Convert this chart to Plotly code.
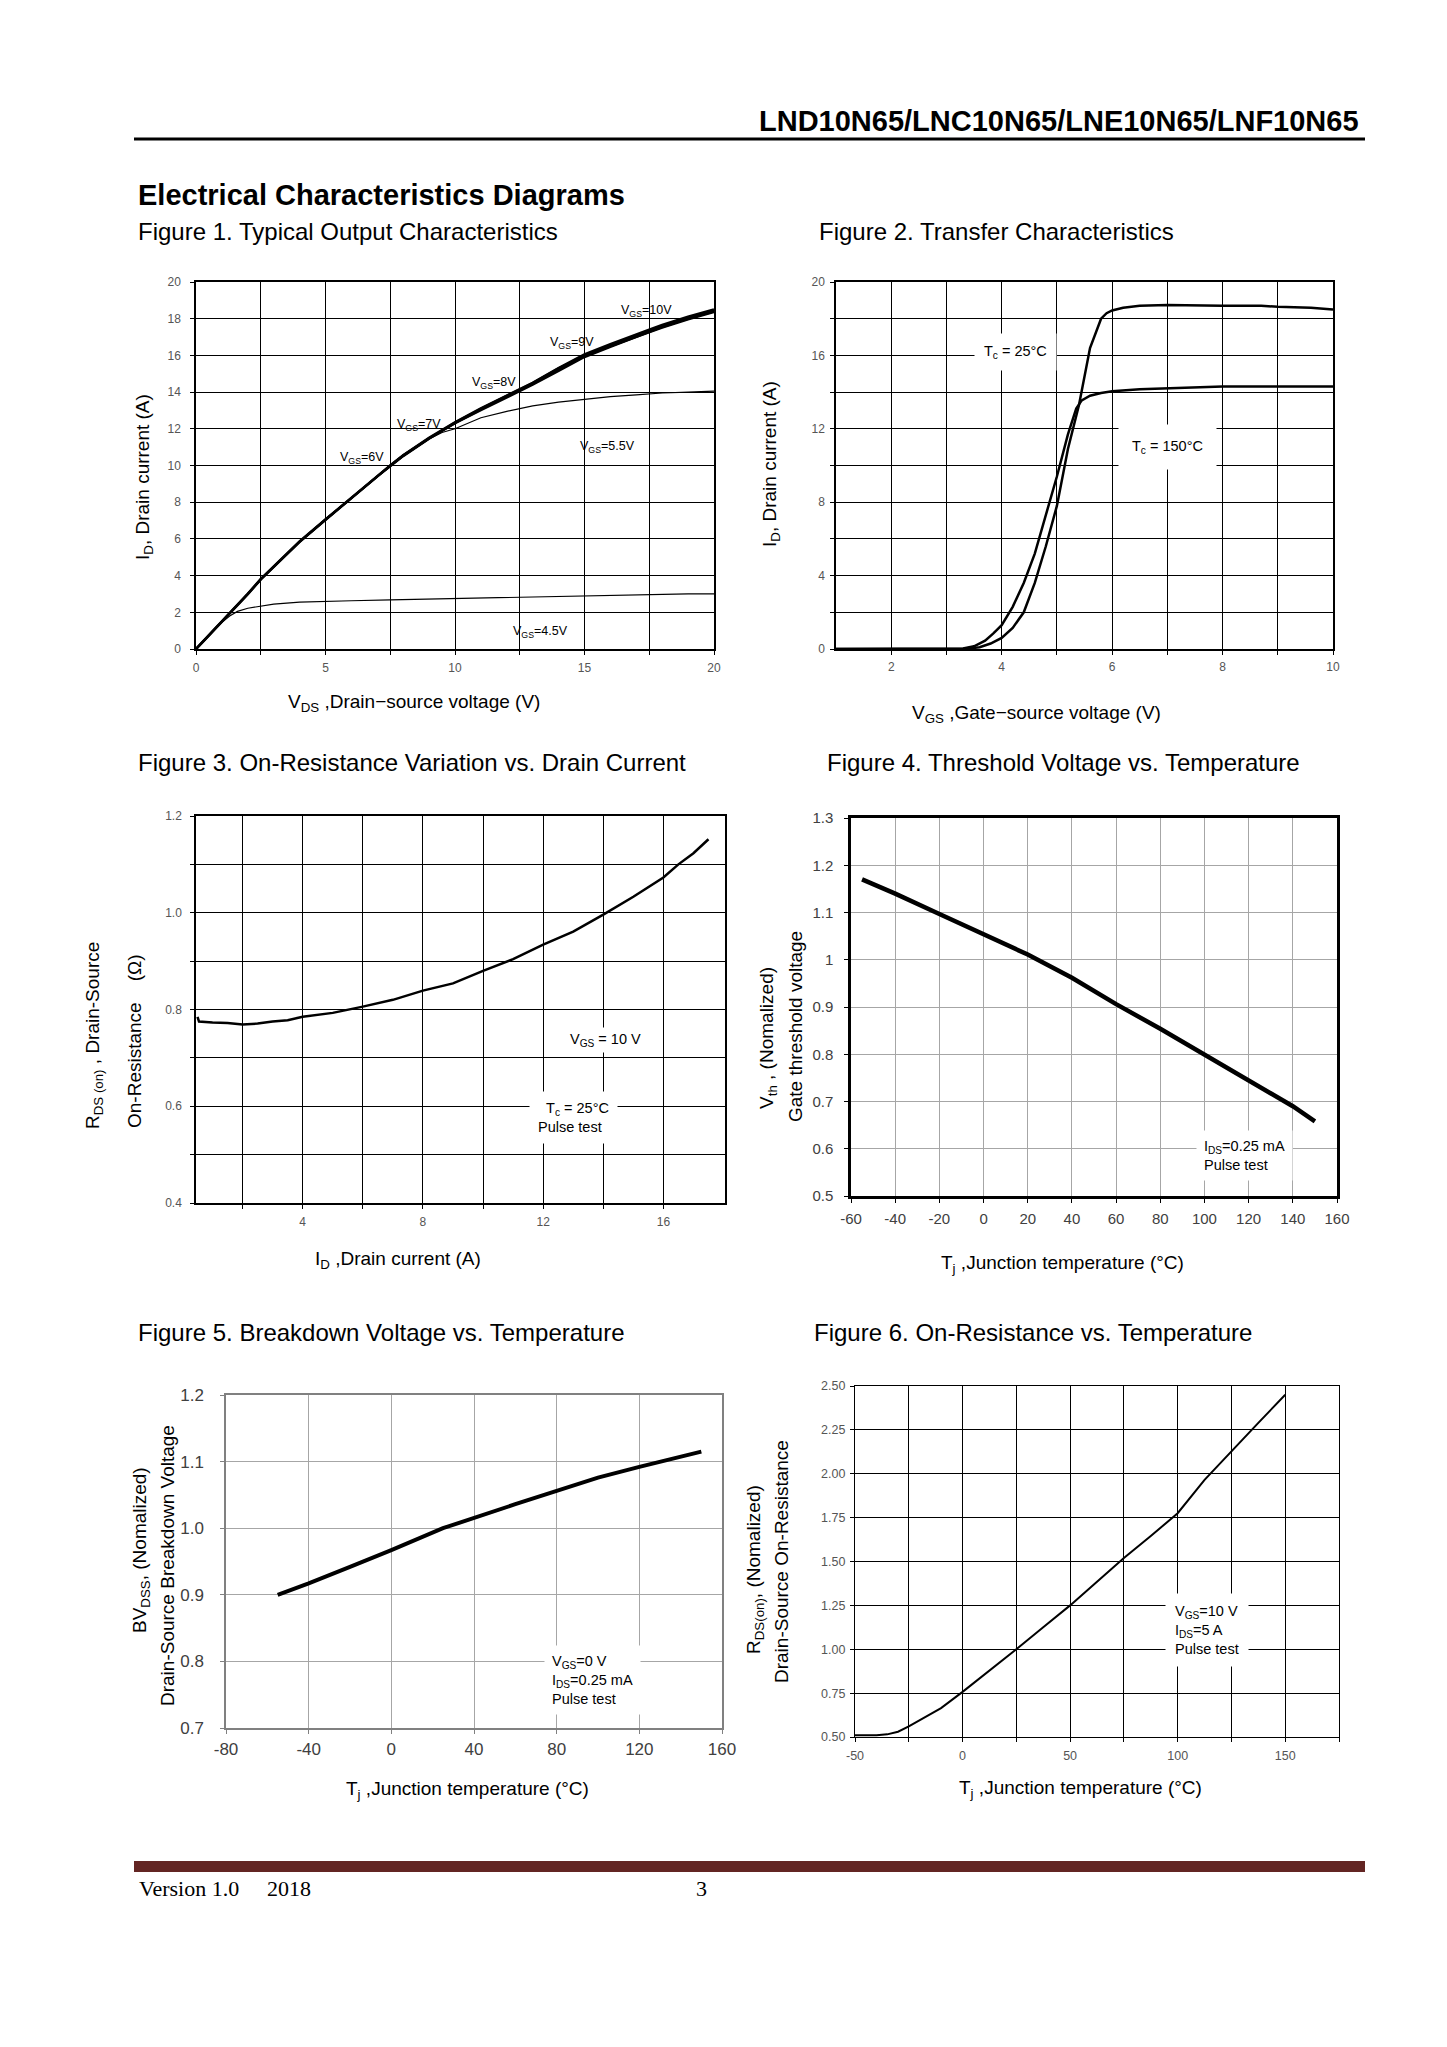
import plotly.graph_objects as go

# ---------------- data ----------------
# Figure 1: output characteristics (VDS in V, ID in A)
f1_vds = [0, 0.5, 1.0, 1.4, 2.0, 2.5, 3.0, 4.0, 5.0, 6.0, 7.0, 7.5, 8.0, 9.0, 10.0,
          11.0, 12.0, 12.5, 13.0, 14.0, 15.0, 16.0, 17.0, 17.5, 18.0, 19.0, 20.0]
f1_id_10v = [0, 0.75, 1.5, 2.05, 3.0, 3.8, 4.5, 5.85, 7.05, 8.25, 9.45, 10.0, 10.55, 11.5, 12.35,
             13.1, 13.8, 14.15, 14.5, 15.3, 16.05, 16.6, 17.15, 17.4, 17.65, 18.1, 18.5]
f1_id_9v = [0, 0.75, 1.5, 2.05, 3.0, 3.8, 4.5, 5.85, 7.05, 8.25, 9.45, 10.0, 10.55, 11.5, 12.35,
            13.1, 13.8, 14.15, 14.5, 15.3, 16.0, 16.5, 17.0, 17.25, 17.5, 17.95, 18.35]
f1_id_8v = [0, 0.75, 1.5, 2.05, 3.0, 3.8, 4.5, 5.85, 7.05, 8.25, 9.45, 10.0, 10.55, 11.5, 12.3,
            13.05, 13.75, 14.1, 14.45, 15.2, 15.95, 16.5, 17.05, 17.3, 17.55, 18.0, 18.4]
f1_id_7v = [0, 0.75, 1.5, 2.05, 3.0, 3.8, 4.5, 5.85, 7.05, 8.25, 9.4, 9.95, 10.5, 11.45, 12.3,
            13.0, 13.7, 14.05, 14.4, 15.15, 15.9, 16.45, 17.0, 17.3, 17.55, 18.0, 18.4]
f1_vds_55 = [0, 0.5, 1.0, 1.4, 2.0, 2.5, 3.0, 4.0, 5.0, 6.0, 7.0, 7.5, 8.0, 9.0, 9.5, 10.0,
             10.5, 11.0, 12.0, 12.5, 13.0, 14.0, 15.0, 16.0, 17.0, 17.5, 18.0, 19.0, 20.0]
f1_id_55v = [0, 0.75, 1.5, 2.05, 3.0, 3.8, 4.5, 5.85, 7.05, 8.25, 9.4, 9.95, 10.5, 11.45, 11.8, 12.0,
             12.3, 12.6, 12.95, 13.1, 13.25, 13.45, 13.6, 13.75, 13.85, 13.9, 13.95, 14.0, 14.05]
f1_vds_45 = [0, 0.5, 1.0, 1.3, 1.6, 2.0, 2.5, 3.0, 4.0, 5.0, 6.0, 7.5, 9.0, 10.0, 11.0,
             12.5, 14.0, 15.0, 16.0, 17.5, 18.0, 19.0, 20.0]
f1_id_45v = [0, 0.75, 1.45, 1.8, 2.05, 2.22, 2.35, 2.45, 2.55, 2.6, 2.63, 2.68, 2.72, 2.75, 2.78,
             2.85, 2.88, 2.92, 2.93, 2.98, 2.97, 3.0, 3.0]
f1_xticks = [0, 5, 10, 15, 20]
f1_xgrid = [2.5, 7.5, 12.5, 17.5]
f1_yticks = [0, 2, 4, 6, 8, 10, 12, 14, 16, 18, 20]
f1_ygrid = []

# Figure 2: transfer characteristics (VGS in V, ID in A)
f2_vgs_25 = [1, 2, 3, 3.4, 3.6, 3.8, 4.0, 4.2, 4.4, 4.6, 4.8, 5.0, 5.2, 5.4, 5.6, 5.8, 5.9,
             6.0, 6.2, 6.5, 7.0, 7.5, 8.0, 8.7, 9.0, 9.6, 10.0]
f2_id_25 = [0, 0, 0, 0.02, 0.1, 0.3, 0.6, 1.15, 2.0, 3.6, 5.6, 7.8, 10.9, 13.3, 16.4, 18.0, 18.3,
            18.45, 18.6, 18.7, 18.75, 18.72, 18.7, 18.7, 18.65, 18.6, 18.5]
f2_vgs_150 = [1, 2, 3, 3.3, 3.5, 3.7, 3.85, 4.0, 4.2, 4.4, 4.6, 4.8, 5.0, 5.2, 5.35, 5.45, 5.6,
              5.8, 6.0, 6.5, 7.0, 7.6, 8.0, 9.0, 10.0]
f2_id_150 = [0, 0, 0, 0.03, 0.15, 0.45, 0.85, 1.3, 2.3, 3.6, 5.2, 7.3, 9.4, 11.7, 13.1, 13.55, 13.8,
             13.95, 14.05, 14.15, 14.2, 14.3, 14.3, 14.3, 14.3]
f2_xticks = [2, 4, 6, 8, 10]
f2_xgrid = [3, 5, 7, 9]
f2_yticks = [0, 4, 8, 12, 16, 20]
f2_ygrid = [2, 6, 10, 14, 18]

# Figure 3: on-resistance vs drain current (ID in A, ohm)
f3_id = [0.5, 0.55, 1.0, 1.5, 2.0, 2.5, 3.0, 3.5, 4.0, 5.0, 6.0, 7.0, 8.0, 9.0, 10.0, 11.0,
         12.0, 13.0, 14.0, 15.0, 16.0, 16.5, 17.0, 17.5]
f3_r = [0.785, 0.775, 0.773, 0.772, 0.769, 0.771, 0.775, 0.778, 0.785, 0.793, 0.806, 0.820,
        0.839, 0.854, 0.880, 0.904, 0.934, 0.961, 0.996, 1.033, 1.073, 1.100, 1.123, 1.152]
f3_xticks = [4, 8, 12, 16]
f3_xgrid = [2, 6, 10, 14]
f3_yticks = [0.4, 0.6, 0.8, 1.0, 1.2]
f3_ylabels = ["0.4", "0.6", "0.8", "1.0", "1.2"]
f3_ygrid = [0.5, 0.7, 0.9, 1.1]

# Figure 4: threshold voltage vs temperature
f4_t = [-55, -40, -20, 0, 20, 40, 60, 80, 100, 120, 140, 150]
f4_v = [1.17, 1.14, 1.097, 1.054, 1.011, 0.962, 0.906, 0.854, 0.800, 0.745, 0.690, 0.658]
f4_xticks = [-60, -40, -20, 0, 20, 40, 60, 80, 100, 120, 140, 160]
f4_yticks = [0.5, 0.6, 0.7, 0.8, 0.9, 1.0, 1.1, 1.2, 1.3]
f4_ylabels = ["0.5", "0.6", "0.7", "0.8", "0.9", "1", "1.1", "1.2", "1.3"]

# Figure 5: breakdown voltage vs temperature
f5_t = [-55, -40, -20, 0, 25, 40, 60, 80, 100, 120, 150]
f5_bv = [0.900, 0.917, 0.942, 0.967, 1.000, 1.016, 1.036, 1.056, 1.076, 1.092, 1.115]
f5_xticks = [-80, -40, 0, 40, 80, 120, 160]
f5_yticks = [0.7, 0.8, 0.9, 1.0, 1.1, 1.2]
f5_ylabels = ["0.7", "0.8", "0.9", "1.0", "1.1", "1.2"]

# Figure 6: on-resistance vs temperature
f6_t = [-50, -40, -35, -30, -25, -20, -10, 0, 10, 25, 37.5, 50, 62.5, 75, 87.5, 100,
        112.5, 125, 137.5, 150]
f6_r = [0.51, 0.51, 0.515, 0.53, 0.56, 0.595, 0.665, 0.757, 0.853, 1.0, 1.125, 1.25, 1.385,
        1.52, 1.645, 1.775, 1.965, 2.13, 2.29, 2.45]
f6_xticks = [-50, 0, 50, 100, 150]
f6_xgrid = [-25, 25, 75, 125, 175]
f6_yticks = [0.5, 0.75, 1.0, 1.25, 1.5, 1.75, 2.0, 2.25, 2.5]
f6_ylabels = ["0.50", "0.75", "1.00", "1.25", "1.50", "1.75", "2.00", "2.25", "2.50"]

# ---------------- layout helpers ----------------
OFF = 8
W, H = 1431, 2031
FONT = "Liberation Sans, Arial, sans-serif"
SERIF = "Liberation Serif, Times New Roman, serif"


def fx(p):
    return (p - OFF) / W


def fy(p):
    return 1 - (p - OFF) / H


fig = go.Figure()

panels = {
    1: dict(L=196, R=714, T=282, B=649),
    2: dict(L=836, R=1333, T=282, B=649),
    3: dict(L=196, R=725, T=816, B=1203),
    4: dict(L=851, R=1337, T=818, B=1196),
    5: dict(L=226, R=722, T=1395, B=1728),
    6: dict(L=855, R=1339, T=1386, B=1737),
}


def add_line(n, x, y, width, color="black"):
    s = "" if n == 1 else str(n)
    fig.add_trace(go.Scatter(x=x, y=y, mode="lines", xaxis="x" + s, yaxis="y" + s,
                             line=dict(color=color, width=width), showlegend=False,
                             hoverinfo="skip"))


# fig 1
add_line(1, f1_vds_45, f1_id_45v, 1.2)
add_line(1, f1_vds_55, f1_id_55v, 1.2)
add_line(1, f1_vds, f1_id_7v, 2)
add_line(1, f1_vds, f1_id_8v, 2)
add_line(1, f1_vds, f1_id_9v, 2)
add_line(1, f1_vds, f1_id_10v, 2.8)
# fig 2
add_line(2, f2_vgs_25, f2_id_25, 2.5)
add_line(2, f2_vgs_150, f2_id_150, 2.5)
# fig 3
add_line(3, f3_id, f3_r, 2.5)
# fig 4
add_line(4, f4_t, f4_v, 4.5)
# fig 5
add_line(5, f5_t, f5_bv, 4)
# fig 6
add_line(6, f6_t, f6_r, 2)

axis_cfg = {
    1: dict(xr=[0, 20], yr=[0, 20], xt=f1_xticks, xl=[str(v) for v in f1_xticks], xg=f1_xgrid,
            yt=f1_yticks, yl=[str(v) for v in f1_yticks], yg=f1_ygrid,
            grid="black", line="black", lw=1.5, tf=12, tc="#555", xs=3, ys=7),
    2: dict(xr=[1, 10], yr=[0, 20], xt=f2_xticks, xl=[str(v) for v in f2_xticks], xg=f2_xgrid,
            yt=f2_yticks, yl=[str(v) for v in f2_yticks], yg=f2_ygrid,
            grid="black", line="black", lw=1.5, tf=12, tc="#555", xs=2, ys=3),
    3: dict(xr=[0.45, 18.05], yr=[0.4, 1.2], xt=f3_xticks, xl=[str(v) for v in f3_xticks],
            xg=f3_xgrid, yt=f3_yticks, yl=f3_ylabels, yg=f3_ygrid,
            grid="black", line="black", lw=1.5, tf=12, tc="#555", xs=3, ys=6),
    4: dict(xr=[-60, 160], yr=[0.5, 1.3], xt=f4_xticks, xl=[str(v) for v in f4_xticks], xg=[],
            yt=f4_yticks, yl=f4_ylabels, yg=[], grid="#a6a6a6", line="black", lw=2.5,
            tf=15, tc="#404040", xs=3, ys=8),
    5: dict(xr=[-80, 160], yr=[0.7, 1.2], xt=f5_xticks, xl=[str(v) for v in f5_xticks], xg=[],
            yt=f5_yticks, yl=f5_ylabels, yg=[], grid="#a6a6a6", line="#808080", lw=1.5,
            tf=17, tc="#404040", xs=1, ys=13),
    6: dict(xr=[-50, 175], yr=[0.5, 2.5], xt=f6_xticks, xl=[str(v) for v in f6_xticks],
            xg=f6_xgrid, yt=f6_yticks, yl=f6_ylabels, yg=[],
            grid="black", line="black", lw=1.2, tf=12.5, tc="#555", xs=3, ys=2),
}

layout = dict(template="none", width=W, height=H, autosize=False,
              margin=dict(l=0, r=0, t=0, b=0, pad=0),
              paper_bgcolor="white", plot_bgcolor="white", showlegend=False,
              font=dict(family=FONT, color="black"))

for n, p in panels.items():
    c = axis_cfg[n]
    s = "" if n == 1 else str(n)
    common = dict(tickmode="array", showgrid=True, gridcolor=c["grid"], gridwidth=1,
                  zeroline=False, showline=True, mirror=True, linecolor=c["line"],
                  linewidth=c["lw"], ticks="outside", ticklen=4, tickcolor=c["line"],
                  tickfont=dict(size=c["tf"], color=c["tc"], family=FONT),
                  fixedrange=True, automargin=False)

    def minor(vals):
        if not vals:
            return dict(showgrid=False, ticks="")
        return dict(tickmode="array", tickvals=vals, showgrid=True, gridcolor=c["grid"],
                    gridwidth=1, ticks="outside", ticklen=4, tickcolor=c["line"])

    layout["xaxis" + s] = dict(domain=[fx(p["L"]), fx(p["R"])], range=c["xr"], anchor="y" + s,
                               tickvals=c["xt"], ticktext=c["xl"], ticklabelstandoff=c["xs"],
                               minor=minor(c["xg"]), **common)
    layout["yaxis" + s] = dict(domain=[fy(p["B"]), fy(p["T"])], range=c["yr"], anchor="x" + s,
                               tickvals=c["yt"], ticktext=c["yl"], ticklabelstandoff=c["ys"],
                               minor=minor(c["yg"]), **common)

fig.update_layout(**layout)

anns = []


def page_text(x, y, text, size, xanchor="left", bold=False, family=FONT, angle=0):
    t = "<b>%s</b>" % text if bold else text
    anns.append(dict(x=fx(x), y=fy(y), xref="paper", yref="paper", text=t,
                     showarrow=False, xanchor=xanchor, yanchor="middle", textangle=angle,
                     font=dict(size=size, family=family, color="black")))


def data_text(n, x, y, text, size=12, bg=None, xanchor="center", pad=2):
    s = "" if n == 1 else str(n)
    a = dict(x=x, y=y, xref="x" + s, yref="y" + s, text=text, showarrow=False,
             xanchor=xanchor, yanchor="middle", align="left",
             font=dict(size=size, family=FONT, color="black"), borderpad=pad)
    if bg:
        a["bgcolor"] = bg
    anns.append(a)


# header / captions
page_text(1361, 121, "LND10N65/LNC10N65/LNE10N65/LNF10N65", 29, xanchor="right", bold=True)
page_text(136, 195, "Electrical Characteristics Diagrams", 29, bold=True)
page_text(136, 232, "Figure 1. Typical Output Characteristics", 24)
page_text(817, 232, "Figure 2. Transfer Characteristics", 24)
page_text(136, 763, "Figure 3. On-Resistance Variation vs. Drain Current", 24)
page_text(825, 763, "Figure 4. Threshold Voltage vs. Temperature", 24)
page_text(136, 1332, "Figure 5. Breakdown Voltage vs. Temperature", 24)
page_text(812, 1332, "Figure 6. On-Resistance vs. Temperature", 24)
page_text(137, 1888, "Version 1.0", 22, family=SERIF)
page_text(265, 1888, "2018", 22, family=SERIF)
page_text(701, 1888, "3", 22, xanchor="center", family=SERIF)

# axis titles
page_text(144, 477, "I<sub>D</sub>, Drain current (A)", 19, xanchor="center", angle=-90)
page_text(414, 703, "V<sub>DS</sub> ,Drain\u2212source voltage (V)", 19, xanchor="center")
page_text(771, 464, "I<sub>D</sub>, Drain current (A)", 19, xanchor="center", angle=-90)
page_text(1036, 714, "V<sub>GS</sub> ,Gate\u2212source voltage (V)", 19, xanchor="center")
page_text(94, 1036, "R<sub>DS (on)</sub> , Drain-Source", 19, xanchor="center", angle=-90)
page_text(134, 1041, "On-Resistance &nbsp;&nbsp;&nbsp;(\u03a9)", 19, xanchor="center", angle=-90)
page_text(398, 1260, "I<sub>D</sub> ,Drain current (A)", 19, xanchor="center")
page_text(768, 1038, "V<sub>th</sub> , (Nomalized)", 19, xanchor="center", angle=-90)
page_text(795, 1027, "Gate threshold voltage", 19, xanchor="center", angle=-90)
page_text(1062, 1264, "T<sub>j</sub> ,Junction temperature (\u00b0C)", 19, xanchor="center")
page_text(141, 1550, "BV<sub>DSS</sub>, (Nomalized)", 19, xanchor="center", angle=-90)
page_text(167, 1566, "Drain-Source Breakdown Voltage", 19, xanchor="center", angle=-90)
page_text(468, 1790, "T<sub>j</sub> ,Junction temperature (\u00b0C)", 19, xanchor="center")
page_text(755, 1570, "R<sub>DS(on)</sub>, (Nomalized)", 19, xanchor="center", angle=-90)
page_text(781, 1562, "Drain-Source On-Resistance", 19, xanchor="center", angle=-90)
page_text(1080, 1789, "T<sub>j</sub> ,Junction temperature (\u00b0C)", 19, xanchor="center")

# in-plot labels
data_text(1, 17.4, 18.4, "V<sub>GS</sub>=10V", 12.5)
data_text(1, 14.5, 16.7, "V<sub>GS</sub>=9V", 12.5)
data_text(1, 11.5, 14.5, "V<sub>GS</sub>=8V", 12.5)
data_text(1, 8.6, 12.2, "V<sub>GS</sub>=7V", 12.5)
data_text(1, 6.4, 10.4, "V<sub>GS</sub>=6V", 12.5)
data_text(1, 15.9, 11.0, "V<sub>GS</sub>=5.5V", 12.5)
data_text(1, 13.3, 0.9, "V<sub>GS</sub>=4.5V", 12.5)
data_text(2, 4.25, 16.2, "T<sub>c</sub> = 25\u00b0C", 14.5, bg="white", pad=9)
data_text(2, 7.0, 11.0, "T<sub>c</sub> = 150\u00b0C", 14.5, bg="white", pad=13)
data_text(3, 14.06, 0.737, "V<sub>GS</sub> = 10 V", 14.5, bg="white", pad=3)
data_text(3, 13.0, 0.577, "&nbsp;&nbsp;T<sub>c</sub> = 25\u00b0C<br>Pulse test", 14.5, bg="white", pad=8)
data_text(4, 96, 0.585, "I<sub>DS</sub>=0.25 mA<br>Pulse test", 14.5, bg="white", xanchor="left", pad=7)
data_text(5, 74, 0.772, "V<sub>GS</sub>=0 V<br>I<sub>DS</sub>=0.25 mA<br>Pulse test", 14.5,
          bg="white", xanchor="left", pad=7)
data_text(6, 94, 1.108, "V<sub>GS</sub>=10 V<br>I<sub>DS</sub>=5 A<br>Pulse test", 14.5,
          bg="white", xanchor="left", pad=9)

fig.update_layout(annotations=anns)

shapes = [
    dict(type="line", xref="paper", yref="paper", x0=fx(134), x1=fx(1365), y0=fy(139), y1=fy(139),
         line=dict(color="black", width=3)),
    dict(type="rect", xref="paper", yref="paper", x0=fx(134), x1=fx(1365), y0=fy(1872), y1=fy(1861),
         fillcolor="#632523", line=dict(width=0)),
]
fig.update_layout(shapes=shapes)

fig.write_html("out.html")
